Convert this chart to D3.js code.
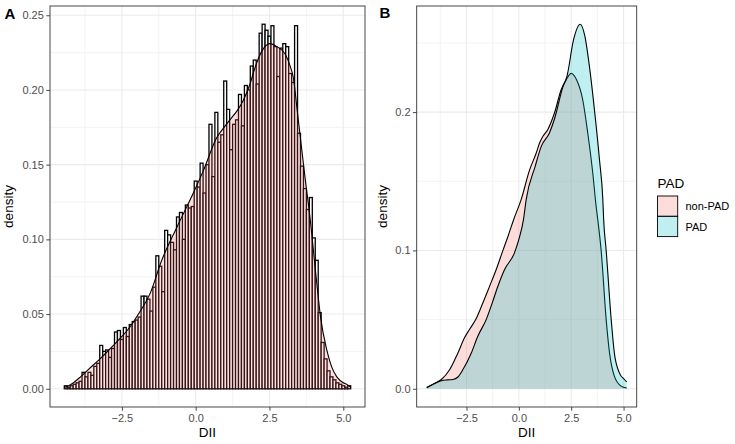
<!DOCTYPE html>
<html><head><meta charset="utf-8">
<script src="https://cdn.jsdelivr.net/npm/d3@7/dist/d3.min.js"></script>
<style>
body{margin:0;background:#fff}
text{font-family:"Liberation Sans",Arial,Helvetica,sans-serif}
</style>
</head><body>
<svg id="c" width="735" height="444"></svg>
<script>
// ---------------- DATA ----------------
// Panel A: histogram (binwidth 0.1) of DII, density scale
const binWidth = 0.1;
const binCenters = [-4.4,-4.3,-4.2,-4.1,-4.0,-3.9,-3.8,-3.7,-3.6,-3.5,-3.4,-3.3,-3.2,-3.1,-3.0,-2.9,-2.8,-2.7,-2.6,-2.5,
  -2.4,-2.3,-2.2,-2.1,-2.0,-1.9,-1.8,-1.7,-1.6,-1.5,-1.4,-1.3,-1.2,-1.1,-1.0,-0.9,-0.8,-0.7,-0.6,-0.5,
  -0.4,-0.3,-0.2,-0.1,0.0,0.1,0.2,0.3,0.4,0.5,0.6,0.7,0.8,0.9,1.0,1.1,1.2,1.3,1.4,1.5,
  1.6,1.7,1.8,1.9,2.0,2.1,2.2,2.3,2.4,2.5,2.6,2.7,2.8,2.9,3.0,3.1,3.2,3.3,3.4,3.5,
  3.6,3.7,3.8,3.9,4.0,4.1,4.2,4.3,4.4,4.5,4.6,4.7,4.8,4.9,5.0,5.1,5.2];
const binDensity = [0.002,0.001,0.002,0.003,0.004,0.005,0.011,0.008,0.011,0.009,0.015,0.017,0.029,0.025,0.026,0.021,0.027,0.038,0.039,0.033,
  0.041,0.035,0.043,0.045,0.046,0.048,0.062,0.062,0.060,0.052,0.068,0.089,0.082,0.065,0.106,0.103,0.098,0.093,0.115,0.118,
  0.100,0.123,0.121,0.122,0.139,0.135,0.151,0.131,0.150,0.177,0.142,0.185,0.165,0.170,0.206,0.187,0.160,0.177,0.180,0.197,
  0.176,0.203,0.200,0.216,0.220,0.204,0.238,0.244,0.240,0.236,0.243,0.229,0.209,0.228,0.231,0.229,0.211,0.205,0.243,0.171,
  0.149,0.134,0.120,0.128,0.101,0.086,0.051,0.031,0.020,0.012,0.008,0.006,0.004,0.003,0.002,0.001,0.002];
// Panel A: kernel density curve
const densAX = [-4.45,-4.3,-4.14,-3.9,-3.63,-3.24,-2.84,-2.5,-2.2,-1.94,-1.54,-1.15,-0.64,-0.08,0.26,0.71,1.0,1.16,1.4,1.61,
  1.84,2.01,2.24,2.51,2.75,3.03,3.2,3.31,3.44,3.57,3.70,3.87,4.10,4.23,4.44,4.6,4.78,5.0,5.11,5.25];
const densAY = [0.0008,0.002,0.004,0.008,0.013,0.020,0.028,0.035,0.042,0.050,0.064,0.086,0.108,0.131,0.146,0.168,0.176,0.180,0.186,0.193,
  0.204,0.215,0.226,0.231,0.229,0.224,0.216,0.208,0.186,0.164,0.142,0.115,0.071,0.048,0.026,0.015,0.008,0.004,0.003,0.001];
// Panel B: densities by group
const groups = ["non-PAD", "PAD"];
const nonPadX = [-4.40,-4.0,-3.7,-3.3,-2.91,-2.59,-2.35,-2.06,-1.72,-1.40,-1.08,-0.76,-0.5,-0.25,0.11,0.51,0.83,0.99,1.15,1.38,
  1.70,2.02,2.26,2.50,2.75,3.05,3.29,3.53,3.69,3.77,3.93,4.17,4.33,4.56,4.88,5.15];
const nonPadY = [0.001,0.004,0.0067,0.0139,0.0259,0.037,0.043,0.050,0.062,0.074,0.0862,0.100,0.111,0.1222,0.1367,0.158,0.1704,0.1776,0.1825,0.1873,
  0.1993,0.2161,0.2233,0.228,0.2235,0.2089,0.1849,0.156,0.1319,0.1222,0.100,0.050,0.0259,0.0091,0.0019,0.0005];
const padX = [-4.40,-3.94,-3.70,-3.40,-3.15,-2.91,-2.67,-2.27,-1.96,-1.56,-1.25,-1.00,-0.68,-0.21,0.0,0.22,0.35,0.78,1.07,1.46,
  1.70,2.10,2.30,2.61,2.93,3.15,3.37,3.61,3.85,4.01,4.05,4.17,4.41,4.56,4.80,5.04,5.15];
const padY = [0.0007,0.0043,0.0058,0.0064,0.0067,0.0085,0.0139,0.0259,0.038,0.050,0.063,0.0741,0.0862,0.0982,0.108,0.1222,0.1367,0.1608,0.1752,0.1849,
  0.195,0.218,0.226,0.2522,0.2635,0.255,0.233,0.2017,0.1656,0.1367,0.1222,0.100,0.050,0.0259,0.0115,0.0067,0.005];
const groupColors = ["#F8766D", "#00BFC4"];
// Ticks
const xTicks = [-2.5, 0, 2.5, 5];
const xMinor = [-3.75, -1.25, 1.25, 3.75];
const yTicksA = [0, 0.05, 0.10, 0.15, 0.20, 0.25];
const yMinorA = [0.025, 0.075, 0.125, 0.175, 0.225];
const yTicksB = [0, 0.1, 0.2];
const yMinorB = [0.05, 0.15, 0.25];

// ---------------- DRAW ----------------
const svg = d3.select("#c");
const PA = {l:50, r:365, t:6, b:407, yt:37};
const PB = {l:416.7, r:636.7, t:6, b:407, yt:30};
function expand(lo, hi){ const d=(hi-lo)*0.05; return [lo-d, hi+d]; }

const xA = d3.scaleLinear().domain(expand(binCenters[0]-binWidth/2, binCenters[binCenters.length-1]+binWidth/2)).range([PA.l, PA.r]);
const yA = d3.scaleLinear().domain(expand(0, Math.max(d3.max(binDensity), d3.max(densAY)))).range([PA.b, PA.t]);
const xB = d3.scaleLinear().domain(expand(d3.min(nonPadX.concat(padX)), d3.max(nonPadX.concat(padX)))).range([PB.l, PB.r]);
const yB = d3.scaleLinear().domain(expand(0, Math.max(d3.max(nonPadY), d3.max(padY)))).range([PB.b, PB.t]);

function frame(P, xs, ys, yt, ym){
  const g = svg.append("g");
  g.selectAll(".mx").data(xMinor).join("line").attr("x1",d=>xs(d)).attr("x2",d=>xs(d)).attr("y1",P.t).attr("y2",P.b)
    .attr("stroke","#EBEBEB").attr("stroke-width",0.6);
  g.selectAll(".my").data(ym).join("line").attr("y1",d=>ys(d)).attr("y2",d=>ys(d)).attr("x1",P.l).attr("x2",P.r)
    .attr("stroke","#EBEBEB").attr("stroke-width",0.6);
  g.selectAll(".Mx").data(xTicks).join("line").attr("x1",d=>xs(d)).attr("x2",d=>xs(d)).attr("y1",P.t).attr("y2",P.b)
    .attr("stroke","#EBEBEB").attr("stroke-width",1.1);
  g.selectAll(".My").data(yt).join("line").attr("y1",d=>ys(d)).attr("y2",d=>ys(d)).attr("x1",P.l).attr("x2",P.r)
    .attr("stroke","#EBEBEB").attr("stroke-width",1.1);
}
function axes(P, xs, ys, yt, fy){
  const g = svg.append("g");
  g.append("rect").attr("x",P.l).attr("y",P.t).attr("width",P.r-P.l).attr("height",P.b-P.t)
    .attr("fill","none").attr("stroke","#333333").attr("stroke-width",0.9);
  const ax = g.append("g").attr("transform",`translate(0,${P.b})`)
    .call(d3.axisBottom(xs).tickValues(xTicks).tickFormat(d3.format(".1f")).tickSize(3.7).tickPadding(3));
  const ay = g.append("g").attr("transform",`translate(${P.l},0)`)
    .call(d3.axisLeft(ys).tickValues(yt).tickFormat(d3.format(fy)).tickSize(3.7).tickPadding(2.5));
  [ax, ay].forEach(a=>{
    a.select(".domain").remove();
    a.selectAll(".tick line").attr("stroke","#333333").attr("stroke-width",0.9);
    a.selectAll(".tick text").attr("fill","#4D4D4D").attr("font-size",11)
      .attr("font-family",'"Liberation Sans",Arial,sans-serif');
  });
  g.append("text").attr("x",(P.l+P.r)/2).attr("y",437).attr("text-anchor","middle")
    .attr("font-size",13.5).attr("fill","#000").text("DII");
  g.append("text").attr("transform",`translate(${P.l-P.yt},${(P.t+P.b)/2}) rotate(-90)`).attr("text-anchor","middle")
    .attr("font-size",13.5).attr("fill","#000").text("density");
}

// Panel A
frame(PA, xA, yA, yTicksA, yMinorA);
const gA = svg.append("g");
gA.selectAll("rect.bar").data(binCenters).join("rect").attr("class","bar")
  .attr("x",d=>xA(d-binWidth/2)).attr("width",d=>xA(d+binWidth/2)-xA(d-binWidth/2))
  .attr("y",(d,i)=>yA(binDensity[i])).attr("height",(d,i)=>yA(0)-yA(binDensity[i]))
  .attr("fill","#fff").attr("stroke","#000").attr("stroke-width",1.3);
const ptsA = densAX.map((x,i)=>[x,densAY[i]]);
gA.append("path").datum(ptsA)
  .attr("d", d3.area().x(d=>xA(d[0])).y0(yA(0)).y1(d=>yA(d[1])).curve(d3.curveMonotoneX))
  .attr("fill","#FF6666").attr("fill-opacity",0.2);
gA.append("path").datum(ptsA)
  .attr("d", d3.line().x(d=>xA(d[0])).y(d=>yA(d[1])).curve(d3.curveMonotoneX))
  .attr("fill","none").attr("stroke","#000").attr("stroke-width",1.1);
axes(PA, xA, yA, yTicksA, ".2f");

// Panel B
frame(PB, xB, yB, yTicksB, yMinorB);
const gB = svg.append("g");
const seriesB = [nonPadX.map((x,i)=>[x,nonPadY[i]]), padX.map((x,i)=>[x,padY[i]])];
seriesB.forEach((pts,k)=>{
  gB.append("path").datum(pts)
    .attr("d", d3.area().x(d=>xB(d[0])).y0(yB(0)).y1(d=>yB(d[1])).curve(d3.curveMonotoneX))
    .attr("fill",groupColors[k]).attr("fill-opacity",0.25);
  gB.append("path").datum(pts)
    .attr("d", d3.line().x(d=>xB(d[0])).y(d=>yB(d[1])).curve(d3.curveMonotoneX))
    .attr("fill","none").attr("stroke","#000").attr("stroke-width",1.1);
});
axes(PB, xB, yB, yTicksB, ".1f");

// Panel tags
svg.append("text").attr("x",4.5).attr("y",18.5).attr("font-size",15).attr("font-weight","bold").text("A");
svg.append("text").attr("x",379.5).attr("y",18).attr("font-size",15).attr("font-weight","bold").text("B");

// Legend
const lg = svg.append("g");
lg.append("text").attr("x",657.5).attr("y",187.5).attr("font-size",13.5).text("PAD");
groups.forEach((name,k)=>{
  const y0 = 196 + k*20.4;
  lg.append("rect").attr("x",657.5).attr("y",y0).attr("width",20.2).attr("height",20.2)
    .attr("fill","#fff");
  lg.append("rect").attr("x",657.5).attr("y",y0).attr("width",20.2).attr("height",20.2)
    .attr("fill",groupColors[k]).attr("fill-opacity",0.25).attr("stroke","#000").attr("stroke-width",0.9);
  lg.append("text").attr("x",685.5).attr("y",y0+10.2).attr("dominant-baseline","central")
    .attr("font-size",11).attr("fill","#000").text(name);
});
</script>
</body></html>
